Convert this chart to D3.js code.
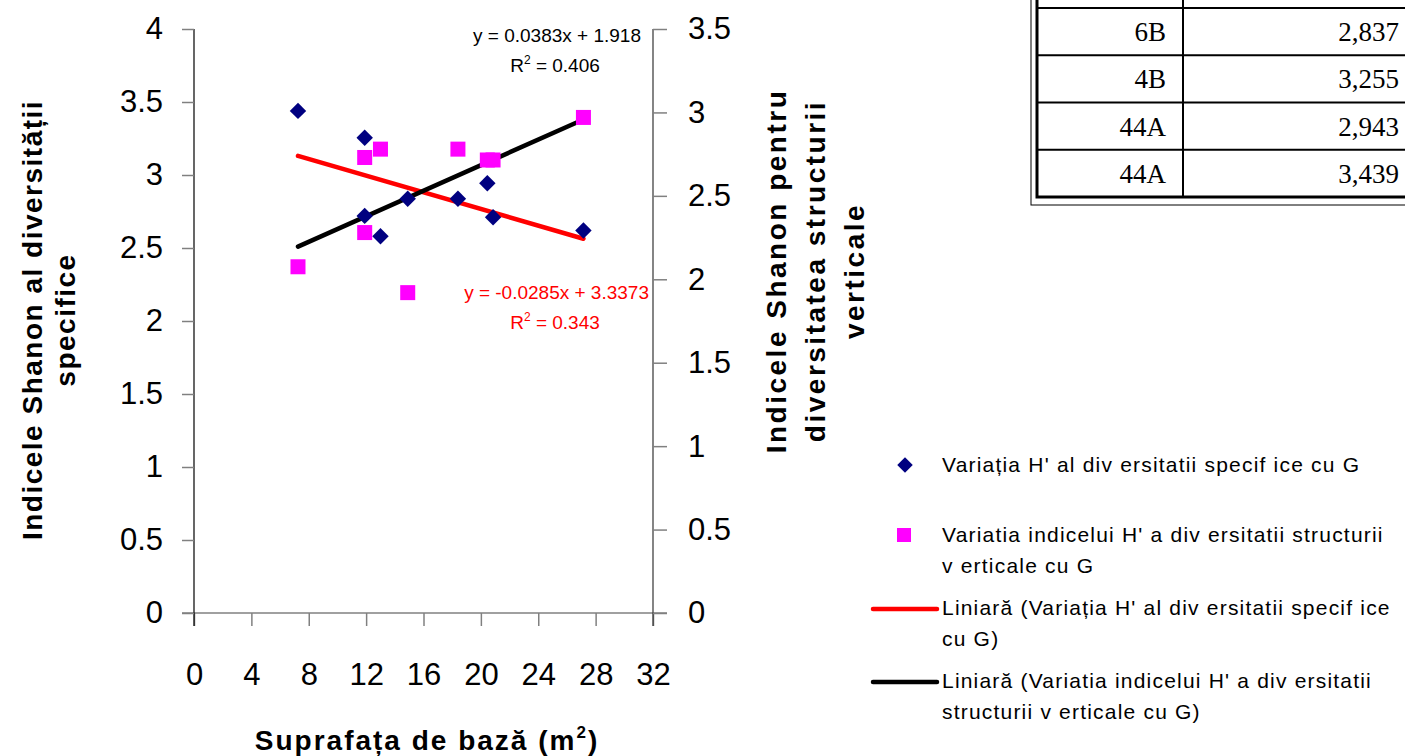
<!DOCTYPE html>
<html>
<head>
<meta charset="utf-8">
<script src="https://cdnjs.cloudflare.com/ajax/libs/d3/7.8.5/d3.min.js"></script>
<style>
  body { margin: 0; background: #fff; }
</style>
</head>
<body>
<div id="chart"></div>
<script>
// Suprafata de baza G (m2) for each plot
var areaG = [7.25, 11.9, 11.9, 13.0, 14.9, 18.4, 20.45, 20.85, 27.15];
// H' diversitate specifica (left axis)
var hSpecific = [3.439, 3.255, 2.72, 2.58, 2.837, 2.837, 2.943, 2.71, 2.62];
// H' diversitate structura verticala (right axis)
var hVertical = [2.075, 2.73, 2.28, 2.78, 1.92, 2.78, 2.715, 2.715, 2.97];

// trendlines [slope, intercept]
var trendSpecific = [-0.0285, 3.3373];
var trendVertical = [0.0383, 1.918];
var r2Specific = "0.343";
var r2Vertical = "0.406";

var xTicks = [0, 4, 8, 12, 16, 20, 24, 28, 32];
var leftTicks = [0, 0.5, 1, 1.5, 2, 2.5, 3, 3.5, 4];
var rightTicks = [0, 0.5, 1, 1.5, 2, 2.5, 3, 3.5];

// table fragment (top right)
var tableCodes = ["6B", "4B", "44A", "44A"];
var tableValues = ["2,837", "3,255", "2,943", "3,439"];

var legendLabels = [
  ["Variația H' al div ersitatii specif ice cu G"],
  ["Variatia indicelui H' a div ersitatii structurii", "v erticale cu G"],
  ["Liniară (Variația H' al div ersitatii specif ice", "cu G)"],
  ["Liniară (Variatia indicelui H' a div ersitatii", "structurii v erticale cu G)"]
];

var width = 1405, height = 756;
var plot = {left: 194, right: 653, top: 29, bottom: 613};
var sans = "Liberation Sans, Arial, sans-serif";
var serif = "Liberation Serif, Times New Roman, serif";

var svg = d3.select("#chart").append("svg")
  .attr("width", width)
  .attr("height", height)
  .attr("font-family", sans);

var x = d3.scaleLinear().domain([0, 32]).range([plot.left, plot.right]);
var yLeft = d3.scaleLinear().domain([0, 4]).range([plot.bottom, plot.top]);
var yRight = d3.scaleLinear().domain([0, 3.5]).range([plot.bottom, plot.top]);
var fmt = function(d) { return String(d); };

// axes
var xAxis = svg.append("g")
  .attr("transform", "translate(0," + plot.bottom + ")")
  .call(d3.axisBottom(x).tickValues(xTicks).tickFormat(fmt).tickSize(13).tickSizeOuter(0).tickPadding(37));
xAxis.select(".domain").attr("stroke", "#808080").attr("stroke-width", 1.5)
  .attr("d", "M" + (plot.left - 12) + ",0H" + (plot.right + 14));

var leftAxis = svg.append("g")
  .attr("transform", "translate(" + plot.left + ",0)")
  .call(d3.axisLeft(yLeft).tickValues(leftTicks).tickFormat(fmt).tickSize(12).tickSizeOuter(0).tickPadding(19));
leftAxis.select(".domain").attr("stroke", "#000").attr("stroke-width", 1.2)
  .attr("d", "M0," + plot.top + "V" + (plot.bottom + 13));

var rightAxis = svg.append("g")
  .attr("transform", "translate(" + plot.right + ",0)")
  .call(d3.axisRight(yRight).tickValues(rightTicks).tickFormat(fmt).tickSize(14).tickSizeOuter(0).tickPadding(21));
rightAxis.select(".domain").attr("stroke", "#333").attr("stroke-width", 1.2)
  .attr("d", "M0," + plot.top + "V" + (plot.bottom + 13));

svg.selectAll(".tick line").attr("stroke", "#808080").attr("stroke-width", 1.5);
svg.selectAll(".tick text")
  .attr("font-family", sans)
  .attr("font-size", 31)
  .attr("fill", "#000");

// axis titles
var leftTitle = ["Indicele Shanon al diversității", "specifice"];
svg.selectAll(".ltitle")
  .data(leftTitle)
  .enter()
  .append("text")
  .attr("class", "ltitle")
  .attr("transform", function(d, i) { return "translate(" + (32 + i * 33) + ",320) rotate(-90)"; })
  .attr("text-anchor", "middle")
  .attr("dy", "0.35em")
  .attr("font-size", 28).attr("font-weight", "bold")
  .attr("letter-spacing", 1.5)
  .text(function(d) { return d; });

var rightTitle = ["Indicele Shanon pentru", "diversitatea structurii", "verticale"];
svg.selectAll(".rtitle")
  .data(rightTitle)
  .enter()
  .append("text")
  .attr("class", "rtitle")
  .attr("transform", function(d, i) { return "translate(" + (776 + i * 39) + ",271) rotate(-90)"; })
  .attr("text-anchor", "middle")
  .attr("dy", "0.35em")
  .attr("font-size", 28).attr("font-weight", "bold")
  .attr("letter-spacing", 2.5)
  .text(function(d) { return d; });

var xTitle = svg.append("text")
  .attr("x", 427).attr("y", 750)
  .attr("text-anchor", "middle")
  .attr("font-size", 28).attr("font-weight", "bold")
  .attr("letter-spacing", 2);
xTitle.append("tspan").text("Suprafața de bază (m");
xTitle.append("tspan").attr("dy", -12).attr("font-size", 17).text("2");
xTitle.append("tspan").attr("dy", 12).text(")");

// trend lines
var xExt = d3.extent(areaG);
function trendPoints(t, yScale) {
  return xExt.map(function(v) { return [x(v), yScale(t[0] * v + t[1])]; });
}
var line = d3.line();
svg.append("path")
  .attr("d", line(trendPoints(trendSpecific, yLeft)))
  .attr("stroke", "#ff0000").attr("stroke-width", 4.5).attr("fill", "none")
  .attr("stroke-linecap", "round");
svg.append("path")
  .attr("d", line(trendPoints(trendVertical, yRight)))
  .attr("stroke", "#000").attr("stroke-width", 4.5).attr("fill", "none")
  .attr("stroke-linecap", "round");

// points
var diamond = d3.symbol().type(d3.symbolSquare).size(135);
svg.selectAll(".pt-spec")
  .data(areaG)
  .enter()
  .append("path")
  .attr("class", "pt-spec")
  .attr("d", diamond)
  .attr("transform", function(d, i) { return "translate(" + x(d) + "," + yLeft(hSpecific[i]) + ") rotate(45)"; })
  .attr("fill", "#000080");

svg.selectAll(".pt-vert")
  .data(areaG)
  .enter()
  .append("rect")
  .attr("class", "pt-vert")
  .attr("x", function(d) { return x(d) - 7.5; })
  .attr("y", function(d, i) { return yRight(hVertical[i]) - 7.5; })
  .attr("width", 15).attr("height", 15)
  .attr("fill", "#ff00ff");

// equations
function equation(xp, yp, anchor, color, t, r2) {
  var s = t[0] < 0 ? "-" + Math.abs(t[0]) : "" + t[0];
  svg.append("text")
    .attr("x", xp).attr("y", yp)
    .attr("text-anchor", "end")
    .attr("font-size", 19).attr("fill", color)
    .text("y = " + s + "x + " + t[1]);
  var r = svg.append("text")
    .attr("x", anchor).attr("y", yp + 30)
    .attr("text-anchor", "middle")
    .attr("font-size", 19).attr("fill", color);
  r.append("tspan").text("R");
  r.append("tspan").attr("dy", -8).attr("font-size", 12).text("2");
  r.append("tspan").attr("dy", 8).text(" = " + r2);
}
equation(641, 42, 555, "#000", trendVertical, r2Vertical);
equation(649, 299, 555, "#ff0000", trendSpecific, r2Specific);

// legend
var legend = svg.selectAll(".legend")
  .data(legendLabels)
  .enter()
  .append("g")
  .attr("class", "legend")
  .attr("transform", function(d, i) { return "translate(0," + [465, 535, 608, 681][i] + ")"; });

legend.each(function(d, i) {
  var g = d3.select(this);
  if (i == 0) {
    g.append("path").attr("d", d3.symbol().type(d3.symbolSquare).size(120))
      .attr("transform", "translate(905,0) rotate(45)").attr("fill", "#000080");
  } else if (i == 1) {
    g.append("rect").attr("x", 897).attr("y", -7).attr("width", 14).attr("height", 14).attr("fill", "#ff00ff");
  } else {
    g.append("line").attr("x1", 873).attr("x2", 937).attr("y1", 1).attr("y2", 1)
      .attr("stroke", i == 2 ? "#ff0000" : "#000").attr("stroke-width", 4.5)
      .attr("stroke-linecap", "round");
  }
  g.selectAll("text")
    .data(d)
    .enter()
    .append("text")
    .attr("x", 942)
    .attr("y", function(t, j) { return j * 31; })
    .attr("dy", "0.35em")
    .attr("font-size", 21)
    .attr("letter-spacing", 1.2)
    .text(function(t) { return t; });
});

// table fragment
var table = svg.append("g").attr("class", "table");
var rowY = d3.scaleLinear().domain([0, 4]).range([8, 197]);
table.append("rect").attr("x", 1031).attr("y", -10).attr("width", 400).attr("height", 215)
  .attr("fill", "#fff").attr("stroke", "#000").attr("stroke-width", 1);
table.append("rect").attr("x", 1037).attr("y", -10).attr("width", 400).attr("height", 207)
  .attr("fill", "#fff").attr("stroke", "#000").attr("stroke-width", 3);
table.selectAll(".rowline")
  .data(d3.range(0, 4))
  .enter()
  .append("line")
  .attr("x1", 1037).attr("x2", 1405)
  .attr("y1", function(d) { return rowY(d); })
  .attr("y2", function(d) { return rowY(d); })
  .attr("stroke", "#000").attr("stroke-width", 2);
table.append("line").attr("x1", 1183).attr("x2", 1183).attr("y1", 0).attr("y2", 197)
  .attr("stroke", "#000").attr("stroke-width", 2);
table.selectAll(".code")
  .data(tableCodes)
  .enter()
  .append("text")
  .attr("x", 1166)
  .attr("y", function(d, i) { return (rowY(i) + rowY(i + 1)) / 2; })
  .attr("dy", "0.35em")
  .attr("text-anchor", "end")
  .attr("font-family", serif)
  .attr("font-size", 27)
  .text(function(d) { return d; });
table.selectAll(".val")
  .data(tableValues)
  .enter()
  .append("text")
  .attr("x", 1399)
  .attr("y", function(d, i) { return (rowY(i) + rowY(i + 1)) / 2; })
  .attr("dy", "0.35em")
  .attr("text-anchor", "end")
  .attr("font-family", serif)
  .attr("font-size", 27)
  .text(function(d) { return d; });
</script>
</body>
</html>
